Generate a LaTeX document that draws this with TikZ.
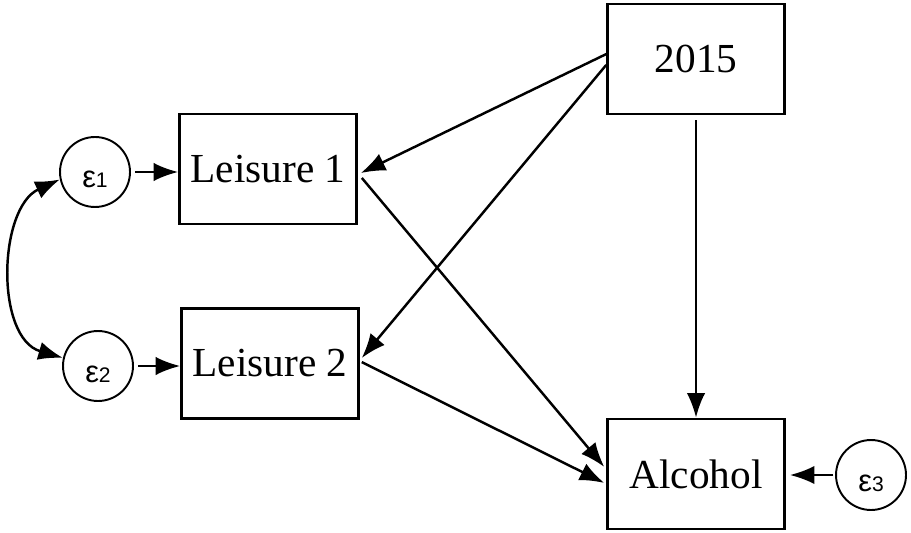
\documentclass[tikz,border=0pt]{standalone}
\usepackage{fontspec}
\setmainfont{Liberation Serif}
\newfontfamily\errfont{Liberation Sans}
\usetikzlibrary{arrows.meta}
\newcommand{\epslabel}[1]{{\errfont\fontsize{17.5}{19}\selectfont ε\fontsize{12}{13}\selectfont #1}}
\begin{document}
\begin{tikzpicture}[x=0.02cm, y=-0.02cm,
  varbox/.style={draw, line width=1.5pt, minimum width=3.54cm, minimum height=2.2cm, font=\fontsize{23.5}{28}\selectfont},
  errcirc/.style={draw, circle, line width=1.1pt, minimum size=1.4cm, inner sep=0pt, text height=0.64cm, text depth=0pt},
  arr/.style={-{Latex[length=14pt,width=10.5pt]}, line width=1.4pt}]
\useasboundingbox (0,0) rectangle (911,533);
\node[varbox] (leis1) at (268,169) {Leisure 1};
\node[varbox] (leis2) at (270,363.5) {Leisure 2};
\node[varbox] (yr) at (696,59) {2015};
\node[varbox] (alc) at (696,474) {Alcohol};
\node[errcirc] (e1) at (95,172) {\epslabel{1}};
\node[errcirc] (e2) at (98,366) {\epslabel{2}};
\node[errcirc] (e3) at (871,475) {\epslabel{3}};
% error terms
\draw[arr, shorten <=2.3pt] (e1.east) -- (e1.east -| leis1.west);
\draw[arr, shorten <=2.3pt] (e2.east) -- (e2.east -| leis2.west);
\draw[arr, shorten <=1pt, shorten >=2.3pt] (e3.west) -- (e3.west -| alc.east);
\draw[arr, {Latex[length=14pt,width=10.5pt]}-{Latex[length=14pt,width=10.5pt]}] (e1.192) .. controls (-2,208) and (-5,338) .. (e2.167);
% paths
\draw[arr] ([yshift=2.8pt]yr.west) -- ([xshift=1.7pt,yshift=-2.3pt]leis1.east);
\draw[arr] ([yshift=-3.4pt]yr.west) -- ([xshift=1.1pt,yshift=3.1pt]leis2.east);
\draw[arr, shorten <=2.8pt] (yr.south) -- (alc.north);
\draw[arr] ([xshift=2.3pt,yshift=-5.1pt]leis1.east) -- ([xshift=-1.1pt,yshift=4pt]alc.west);
\draw[arr] ([xshift=1.1pt,yshift=0.8pt]leis2.east) -- ([xshift=-1.1pt,yshift=-5.1pt]alc.west);
\end{tikzpicture}
\end{document}
